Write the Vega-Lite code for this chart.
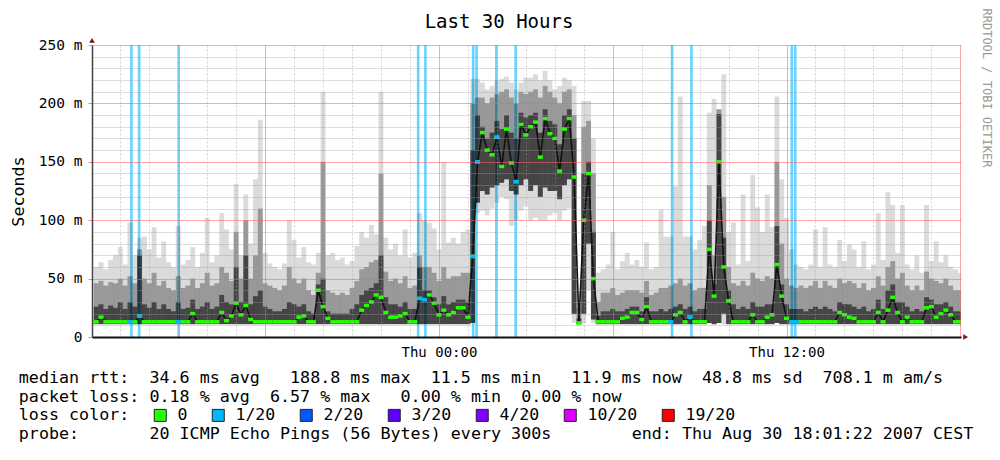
{
"$schema": "https://vega.github.io/schema/vega-lite/v6.json",
"width": 869, "height": 292,
"autosize": {"type": "none"},
"padding": {"left": 92, "top": 45, "right": 39, "bottom": 123},
"background": "white",
"data": {"values": [
{"m":730,"lo":11,"a":11,"d":26,"c":46,"hi":60,"md":13},
{"m":740,"lo":11,"a":11,"d":28,"c":48,"hi":64,"md":17},
{"m":750,"lo":11,"a":11,"d":24,"c":44,"hi":58,"md":13},
{"m":760,"lo":11,"a":11,"d":27,"c":47,"hi":66,"md":13},
{"m":770,"lo":11,"a":11,"d":25,"c":46,"hi":70,"md":13},
{"m":780,"lo":11,"a":11,"d":30,"c":50,"hi":77,"md":13},
{"m":790,"lo":11,"a":11,"d":24,"c":44,"hi":62,"md":13},
{"m":800,"lo":11,"a":11,"d":30,"c":52,"hi":98,"md":13,"l":"1/20"},
{"m":810,"lo":11,"a":11,"d":26,"c":46,"hi":70,"md":13},
{"m":820,"lo":11,"a":11,"d":70,"c":75,"hi":85,"md":18,"l":"1/20"},
{"m":830,"lo":11,"a":11,"d":28,"c":50,"hi":86,"md":13},
{"m":840,"lo":11,"a":11,"d":25,"c":46,"hi":75,"md":13},
{"m":850,"lo":11,"a":11,"d":30,"c":55,"hi":94,"md":13},
{"m":860,"lo":11,"a":11,"d":24,"c":44,"hi":68,"md":13},
{"m":870,"lo":11,"a":11,"d":28,"c":48,"hi":82,"md":13},
{"m":880,"lo":11,"a":11,"d":24,"c":42,"hi":64,"md":13},
{"m":890,"lo":11,"a":11,"d":22,"c":40,"hi":60,"md":13},
{"m":900,"lo":11,"a":11,"d":30,"c":52,"hi":95,"md":13,"l":"1/20"},
{"m":910,"lo":11,"a":11,"d":24,"c":42,"hi":62,"md":13},
{"m":920,"lo":11,"a":11,"d":25,"c":44,"hi":66,"md":13},
{"m":930,"lo":11,"a":11,"d":32,"c":50,"hi":77,"md":20},
{"m":940,"lo":11,"a":11,"d":24,"c":42,"hi":60,"md":13},
{"m":950,"lo":11,"a":11,"d":26,"c":46,"hi":72,"md":13},
{"m":960,"lo":11,"a":11,"d":30,"c":55,"hi":102,"md":13},
{"m":970,"lo":11,"a":11,"d":24,"c":44,"hi":64,"md":13},
{"m":980,"lo":11,"a":11,"d":26,"c":46,"hi":70,"md":13},
{"m":990,"lo":11,"a":11,"d":36,"c":60,"hi":106,"md":21},
{"m":1000,"lo":11,"a":11,"d":30,"c":55,"hi":92,"md":14},
{"m":1010,"lo":11,"a":11,"d":28,"c":48,"hi":75,"md":18},
{"m":1020,"lo":11,"a":11,"d":60,"c":90,"hi":131,"md":29},
{"m":1030,"lo":11,"a":11,"d":30,"c":50,"hi":70,"md":19},
{"m":1040,"lo":11,"a":11,"d":70,"c":100,"hi":122,"md":27},
{"m":1050,"lo":11,"a":11,"d":28,"c":50,"hi":80,"md":15},
{"m":1060,"lo":11,"a":11,"d":35,"c":70,"hi":135,"md":13},
{"m":1070,"lo":11,"a":11,"d":40,"c":110,"hi":186,"md":13},
{"m":1080,"lo":11,"a":11,"d":26,"c":46,"hi":72,"md":13},
{"m":1090,"lo":11,"a":11,"d":24,"c":44,"hi":63,"md":13},
{"m":1100,"lo":11,"a":11,"d":22,"c":42,"hi":60,"md":13},
{"m":1110,"lo":11,"a":11,"d":22,"c":40,"hi":58,"md":13},
{"m":1120,"lo":11,"a":11,"d":24,"c":44,"hi":63,"md":13},
{"m":1130,"lo":11,"a":11,"d":30,"c":60,"hi":100,"md":13},
{"m":1140,"lo":11,"a":11,"d":28,"c":50,"hi":83,"md":13},
{"m":1150,"lo":11,"a":11,"d":26,"c":46,"hi":68,"md":17},
{"m":1160,"lo":11,"a":11,"d":28,"c":50,"hi":77,"md":18},
{"m":1170,"lo":11,"a":11,"d":22,"c":40,"hi":64,"md":13},
{"m":1180,"lo":11,"a":11,"d":20,"c":36,"hi":62,"md":13},
{"m":1190,"lo":11,"a":11,"d":45,"c":55,"hi":72,"md":40},
{"m":1200,"lo":11,"a":11,"d":50,"c":150,"hi":210,"md":26},
{"m":1210,"lo":11,"a":11,"d":22,"c":40,"hi":70,"md":16},
{"m":1220,"lo":11,"a":11,"d":20,"c":38,"hi":72,"md":13},
{"m":1230,"lo":11,"a":11,"d":20,"c":36,"hi":66,"md":13},
{"m":1240,"lo":11,"a":11,"d":20,"c":38,"hi":68,"md":13},
{"m":1250,"lo":11,"a":11,"d":20,"c":36,"hi":62,"md":13},
{"m":1260,"lo":11,"a":11,"d":24,"c":42,"hi":65,"md":13},
{"m":1270,"lo":11,"a":11,"d":28,"c":48,"hi":78,"md":13},
{"m":1280,"lo":11,"a":11,"d":36,"c":58,"hi":90,"md":23},
{"m":1290,"lo":11,"a":11,"d":40,"c":60,"hi":85,"md":27},
{"m":1300,"lo":11,"a":11,"d":42,"c":64,"hi":96,"md":30},
{"m":1310,"lo":11,"a":11,"d":46,"c":66,"hi":88,"md":36},
{"m":1320,"lo":11,"a":11,"d":70,"c":140,"hi":210,"md":34},
{"m":1330,"lo":11,"a":11,"d":34,"c":56,"hi":85,"md":21},
{"m":1340,"lo":11,"a":11,"d":28,"c":48,"hi":75,"md":17},
{"m":1350,"lo":11,"a":11,"d":28,"c":50,"hi":80,"md":17},
{"m":1360,"lo":11,"a":11,"d":26,"c":46,"hi":70,"md":18},
{"m":1370,"lo":11,"a":11,"d":30,"c":52,"hi":92,"md":20},
{"m":1380,"lo":11,"a":11,"d":24,"c":42,"hi":68,"md":13},
{"m":1390,"lo":11,"a":11,"d":24,"c":44,"hi":72,"md":13},
{"m":1400,"lo":11,"a":11,"d":60,"c":70,"hi":106,"md":33,"l":"1/20"},
{"m":1410,"lo":11,"a":11,"d":40,"c":60,"hi":100,"md":32,"l":"1/20"},
{"m":1420,"lo":11,"a":11,"d":40,"c":60,"hi":98,"md":36},
{"m":1430,"lo":11,"a":11,"d":34,"c":55,"hi":93,"md":29},
{"m":1440,"lo":11,"a":11,"d":28,"c":48,"hi":75,"md":19},
{"m":1450,"lo":11,"a":11,"d":35,"c":60,"hi":150,"md":23},
{"m":1460,"lo":11,"a":11,"d":28,"c":50,"hi":81,"md":19},
{"m":1470,"lo":11,"a":11,"d":30,"c":52,"hi":85,"md":21},
{"m":1480,"lo":11,"a":11,"d":32,"c":52,"hi":80,"md":25},
{"m":1490,"lo":11,"a":11,"d":32,"c":55,"hi":90,"md":25},
{"m":1500,"lo":11,"a":11,"d":30,"c":55,"hi":92,"md":17},
{"m":1510,"lo":12,"a":12,"d":160,"c":200,"hi":221,"md":69,"l":"1/20"},
{"m":1520,"lo":106,"a":115,"d":190,"c":205,"hi":221,"md":150,"l":"1/20"},
{"m":1530,"lo":108,"a":125,"d":180,"c":205,"hi":218,"md":175},
{"m":1540,"lo":104,"a":122,"d":170,"c":200,"hi":212,"md":160},
{"m":1550,"lo":110,"a":128,"d":175,"c":205,"hi":215,"md":156},
{"m":1560,"lo":115,"a":130,"d":185,"c":208,"hi":220,"md":171,"l":"1/20"},
{"m":1570,"lo":120,"a":132,"d":178,"c":210,"hi":221,"md":146},
{"m":1580,"lo":118,"a":135,"d":190,"c":212,"hi":223,"md":178},
{"m":1590,"lo":95,"a":125,"d":175,"c":205,"hi":218,"md":149},
{"m":1600,"lo":100,"a":122,"d":170,"c":200,"hi":212,"md":133,"l":"1/20"},
{"m":1610,"lo":108,"a":130,"d":192,"c":210,"hi":218,"md":182},
{"m":1620,"lo":112,"a":135,"d":188,"c":208,"hi":222,"md":173},
{"m":1630,"lo":100,"a":125,"d":190,"c":210,"hi":222,"md":180},
{"m":1640,"lo":102,"a":130,"d":192,"c":212,"hi":225,"md":184},
{"m":1650,"lo":100,"a":120,"d":175,"c":205,"hi":220,"md":154},
{"m":1660,"lo":100,"a":128,"d":195,"c":215,"hi":228,"md":187},
{"m":1670,"lo":104,"a":125,"d":185,"c":210,"hi":220,"md":174},
{"m":1680,"lo":106,"a":125,"d":182,"c":205,"hi":212,"md":170},
{"m":1690,"lo":100,"a":118,"d":165,"c":200,"hi":215,"md":142},
{"m":1700,"lo":108,"a":130,"d":190,"c":210,"hi":222,"md":178},
{"m":1710,"lo":110,"a":135,"d":195,"c":212,"hi":220,"md":187},
{"m":1720,"lo":12,"a":20,"d":170,"c":190,"hi":215,"md":137},
{"m":1730,"lo":11,"a":11,"d":16,"c":25,"hi":40,"md":12},
{"m":1740,"lo":12,"a":20,"d":140,"c":180,"hi":202,"md":100},
{"m":1750,"lo":40,"a":80,"d":150,"c":185,"hi":202,"md":140},
{"m":1760,"lo":12,"a":15,"d":90,"c":140,"hi":170,"md":50},
{"m":1770,"lo":11,"a":11,"d":18,"c":30,"hi":55,"md":13},
{"m":1780,"lo":11,"a":11,"d":22,"c":38,"hi":58,"md":13},
{"m":1790,"lo":11,"a":11,"d":22,"c":38,"hi":62,"md":13},
{"m":1800,"lo":11,"a":11,"d":24,"c":42,"hi":90,"md":13},
{"m":1810,"lo":11,"a":11,"d":22,"c":36,"hi":58,"md":13},
{"m":1820,"lo":11,"a":11,"d":22,"c":38,"hi":65,"md":16},
{"m":1830,"lo":11,"a":11,"d":24,"c":40,"hi":72,"md":17},
{"m":1840,"lo":11,"a":11,"d":26,"c":40,"hi":62,"md":21},
{"m":1850,"lo":11,"a":11,"d":26,"c":40,"hi":66,"md":21},
{"m":1860,"lo":11,"a":11,"d":22,"c":38,"hi":60,"md":15},
{"m":1870,"lo":11,"a":11,"d":34,"c":48,"hi":81,"md":26},
{"m":1880,"lo":11,"a":11,"d":22,"c":36,"hi":58,"md":13},
{"m":1890,"lo":11,"a":11,"d":22,"c":38,"hi":60,"md":13},
{"m":1900,"lo":11,"a":11,"d":24,"c":42,"hi":109,"md":13},
{"m":1910,"lo":11,"a":11,"d":22,"c":42,"hi":86,"md":13},
{"m":1920,"lo":11,"a":11,"d":24,"c":44,"hi":86,"md":13,"l":"1/20"},
{"m":1930,"lo":11,"a":11,"d":26,"c":46,"hi":129,"md":19},
{"m":1940,"lo":11,"a":11,"d":28,"c":50,"hi":206,"md":21},
{"m":1950,"lo":11,"a":11,"d":24,"c":44,"hi":86,"md":13},
{"m":1960,"lo":11,"a":11,"d":26,"c":46,"hi":86,"md":17,"l":"1/20"},
{"m":1970,"lo":11,"a":11,"d":22,"c":40,"hi":75,"md":13},
{"m":1980,"lo":11,"a":11,"d":24,"c":42,"hi":83,"md":13},
{"m":1990,"lo":11,"a":11,"d":24,"c":42,"hi":95,"md":13},
{"m":2000,"lo":12,"a":12,"d":100,"c":130,"hi":192,"md":75},
{"m":2010,"lo":11,"a":11,"d":45,"c":70,"hi":204,"md":35},
{"m":2020,"lo":12,"a":12,"d":191,"c":195,"hi":195,"md":150},
{"m":2030,"lo":11,"a":20,"d":85,"c":120,"hi":225,"md":60},
{"m":2040,"lo":11,"a":11,"d":40,"c":60,"hi":90,"md":31},
{"m":2050,"lo":11,"a":11,"d":28,"c":46,"hi":98,"md":13},
{"m":2060,"lo":11,"a":11,"d":24,"c":44,"hi":62,"md":13},
{"m":2070,"lo":11,"a":11,"d":26,"c":48,"hi":122,"md":13},
{"m":2080,"lo":11,"a":11,"d":24,"c":44,"hi":65,"md":13},
{"m":2090,"lo":11,"a":11,"d":30,"c":55,"hi":139,"md":19},
{"m":2100,"lo":11,"a":11,"d":26,"c":50,"hi":111,"md":13},
{"m":2110,"lo":11,"a":11,"d":26,"c":48,"hi":90,"md":13},
{"m":2120,"lo":11,"a":11,"d":28,"c":52,"hi":122,"md":17},
{"m":2130,"lo":11,"a":11,"d":28,"c":50,"hi":94,"md":19},
{"m":2140,"lo":12,"a":12,"d":95,"c":150,"hi":206,"md":62},
{"m":2150,"lo":11,"a":11,"d":45,"c":80,"hi":135,"md":35},
{"m":2160,"lo":11,"a":11,"d":28,"c":50,"hi":102,"md":16},
{"m":2170,"lo":11,"a":11,"d":24,"c":44,"hi":75,"md":13,"l":"1/20"},
{"m":2180,"lo":11,"a":11,"d":24,"c":42,"hi":62,"md":13,"l":"1/20"},
{"m":2190,"lo":11,"a":11,"d":24,"c":44,"hi":60,"md":13},
{"m":2200,"lo":11,"a":11,"d":22,"c":42,"hi":58,"md":13},
{"m":2210,"lo":11,"a":11,"d":24,"c":44,"hi":62,"md":13},
{"m":2220,"lo":11,"a":11,"d":26,"c":48,"hi":92,"md":13},
{"m":2230,"lo":11,"a":11,"d":24,"c":42,"hi":60,"md":13},
{"m":2240,"lo":11,"a":11,"d":26,"c":48,"hi":94,"md":13},
{"m":2250,"lo":11,"a":11,"d":24,"c":44,"hi":62,"md":13},
{"m":2260,"lo":11,"a":11,"d":22,"c":42,"hi":60,"md":13},
{"m":2270,"lo":11,"a":11,"d":30,"c":50,"hi":83,"md":21},
{"m":2280,"lo":11,"a":11,"d":28,"c":46,"hi":65,"md":19},
{"m":2290,"lo":11,"a":11,"d":28,"c":48,"hi":79,"md":17},
{"m":2300,"lo":11,"a":11,"d":26,"c":46,"hi":75,"md":16},
{"m":2310,"lo":11,"a":11,"d":24,"c":42,"hi":60,"md":13},
{"m":2320,"lo":11,"a":11,"d":26,"c":46,"hi":82,"md":13},
{"m":2330,"lo":11,"a":11,"d":22,"c":40,"hi":58,"md":13},
{"m":2340,"lo":11,"a":11,"d":24,"c":42,"hi":62,"md":13},
{"m":2350,"lo":11,"a":11,"d":32,"c":52,"hi":106,"md":21},
{"m":2360,"lo":11,"a":11,"d":24,"c":44,"hi":66,"md":13},
{"m":2370,"lo":11,"a":11,"d":40,"c":60,"hi":124,"md":23},
{"m":2380,"lo":11,"a":11,"d":45,"c":65,"hi":113,"md":34},
{"m":2390,"lo":11,"a":11,"d":30,"c":50,"hi":72,"md":21},
{"m":2400,"lo":11,"a":11,"d":30,"c":55,"hi":113,"md":13},
{"m":2410,"lo":11,"a":11,"d":26,"c":44,"hi":62,"md":17},
{"m":2420,"lo":11,"a":11,"d":22,"c":40,"hi":58,"md":13},
{"m":2430,"lo":11,"a":11,"d":24,"c":44,"hi":70,"md":13},
{"m":2440,"lo":11,"a":11,"d":22,"c":40,"hi":55,"md":13},
{"m":2450,"lo":11,"a":11,"d":34,"c":56,"hi":113,"md":25},
{"m":2460,"lo":11,"a":11,"d":32,"c":50,"hi":65,"md":26},
{"m":2470,"lo":11,"a":11,"d":28,"c":48,"hi":82,"md":17},
{"m":2480,"lo":11,"a":11,"d":28,"c":46,"hi":64,"md":20},
{"m":2490,"lo":11,"a":11,"d":30,"c":50,"hi":70,"md":23},
{"m":2500,"lo":11,"a":11,"d":26,"c":44,"hi":60,"md":19},
{"m":2510,"lo":11,"a":11,"d":22,"c":40,"hi":58,"md":13},
{"m":2520,"lo":11,"a":11,"d":22,"c":40,"hi":55,"md":13}
]},
"layer": [
{
"data": {"values": [{"m":803},{"m":819},{"m":901},{"m":1397},{"m":1412},{"m":1511},{"m":1518},{"m":1559},{"m":1599},{"m":1923},{"m":1963},{"m":2171},{"m":2178}]},
"mark": {"type": "rule", "color": "#00b8ff", "opacity": 0.6, "strokeWidth": 2.6},
"encoding": {
"x": {"field": "m", "type": "quantitative", "scale": {"domain": [721.4, 2521.4], "nice": false, "zero": false}, "axis": null},
"y": {"datum": 0, "type": "quantitative", "scale": {"domain": [0, 250], "nice": false}, "axis": null},
"y2": {"datum": 250}
}
},
{
"mark": {"type": "rule", "color": "#000", "opacity": 0.14, "strokeWidth": 4.9, "clip": true},
"encoding": {
"x": {"field": "m", "type": "quantitative", "scale": {"domain": [721.4, 2521.4], "nice": false, "zero": false},
 "axis": {
  "values": [780,840,900,960,1020,1080,1140,1200,1260,1320,1380,1440,1500,1560,1620,1680,1740,1800,1860,1920,1980,2040,2100,2160,2220,2280,2340,2400,2460,2520],
  "zindex": 1,
  "grid": true,
  "gridColor": {"condition": {"test": "datum.value % 360 === 0", "value": "#ff5f5f"}, "value": "#9f9f9f"},
  "gridOpacity": {"condition": {"test": "datum.value % 360 === 0", "value": 0.55}, "value": 0.45},
  "gridDash": {"condition": {"test": "datum.value % 360 === 0", "value": []}, "value": [2, 2]},
  "ticks": false,
  "domainColor": "#111", "domainWidth": 2,
  "labelExpr": "datum.value === 1440 ? 'Thu 00:00' : (datum.value === 2160 ? 'Thu 12:00' : '')",
  "labelFont": "DejaVu Sans Mono", "labelFontSize": 14, "labelColor": "#000", "labelPadding": 8,
  "labelOverlap": false, "labelFlush": false,
  "title": ["median rtt:\u00a0\u00a034.6 ms avg\u00a0\u00a0\u00a0188.8 ms max\u00a0\u00a011.5 ms min\u00a0\u00a0\u00a011.9 ms now\u00a0\u00a048.8 ms sd\u00a0\u00a0708.1 m am/s",
            "packet loss: 0.18 % avg\u00a0\u00a06.57 % max\u00a0\u00a0\u00a00.00 % min\u00a0\u00a00.00 % now",
            "loss color:",
            "probe:\u00a0\u00a0\u00a0\u00a0\u00a0\u00a0\u00a020 ICMP Echo Pings (56 Bytes) every 300s\u00a0\u00a0\u00a0\u00a0\u00a0\u00a0\u00a0\u00a0end: Thu Aug 30 18:01:22 2007 CEST"],
  "titleFont": "DejaVu Sans Mono", "titleFontSize": 16.7, "titleFontWeight": "normal", "titleColor": "#000",
  "titleX": -73.7, "titleY": 45.5, "titleAlign": "left", "titleBaseline": "alphabetic", "titleLineHeight": 18.6
 }},
"y": {"field": "lo", "type": "quantitative", "scale": {"domain": [0, 250], "nice": false},
 "axis": {
  "orient": "left",
  "values": [0,10,20,30,40,50,60,70,80,90,100,110,120,130,140,150,160,170,180,190,200,210,220,230,240,250],
  "zindex": 1,
  "grid": true,
  "gridColor": {"condition": {"test": "datum.value % 50 === 0", "value": "#ff5f5f"}, "value": "#9f9f9f"},
  "gridOpacity": {"condition": {"test": "datum.value % 50 === 0", "value": 0.55}, "value": 0.35},
  "ticks": true, "tickSize": 4,
  "tickColor": {"condition": {"test": "datum.value % 50 === 0", "value": "#ff8080"}, "value": "#bbbbbb"},
  "tickOpacity": {"condition": {"test": "datum.value % 50 === 0", "value": 1}, "value": 0},
  "domainColor": "#444", "domainWidth": 1.5,
  "labelExpr": "datum.value % 50 === 0 ? (datum.value === 0 ? '0' : datum.value + ' m') : ''",
  "labelFont": "DejaVu Sans Mono", "labelFontSize": 14.5, "labelColor": "#000", "labelPadding": 6,
  "labelOverlap": false, "labelFlush": false,
  "title": "Seconds", "titleFont": "DejaVu Sans Mono", "titleFontSize": 16.7, "titleFontWeight": "normal", "titleColor": "#000",
  "titleX": -69, "titleY": 146, "titleAngle": 270, "titleAlign": "center", "titleBaseline": "alphabetic"
 }},
"y2": {"field": "hi"}
}
},
{
"mark": {"type": "rule", "color": "#000", "opacity": 0.3, "strokeWidth": 4.9, "clip": true},
"encoding": {
"x": {"field": "m", "type": "quantitative", "axis": null},
"y": {"field": "a", "type": "quantitative", "axis": null},
"y2": {"field": "c"}
}
},
{
"mark": {"type": "rule", "color": "#000", "opacity": 0.55, "strokeWidth": 4.9, "clip": true},
"encoding": {
"x": {"field": "m", "type": "quantitative", "axis": null},
"y": {"field": "a", "type": "quantitative", "axis": null},
"y2": {"field": "d"}
}
},
{
"mark": {"type": "line", "color": "#111", "strokeWidth": 1.6, "clip": true},
"encoding": {
"x": {"field": "m", "type": "quantitative", "axis": null},
"y": {"field": "md", "type": "quantitative", "axis": null}
}
},
{
"mark": {"type": "point", "shape": "M-1,-0.7H1V0.7H-1Z", "filled": true, "size": 25, "opacity": 1, "clip": true},
"encoding": {
"x": {"field": "m", "type": "quantitative", "axis": null},
"y": {"field": "md", "type": "quantitative", "axis": null},
"color": {"datum": "0", "type": "nominal",
 "scale": {"domain": ["0","1/20","2/20","3/20","4/20","10/20","19/20"], "range": ["#26ff00","#00b8ff","#0059ff","#5e00ff","#7e00ff","#dd00ff","#ff0000"]},
 "legend": {"orient": "none", "legendX": 60, "legendY": 362, "direction": "horizontal", "columns": 7, "title": null,
  "symbolType": "square", "symbolSize": 144, "symbolStrokeColor": "#222", "symbolStrokeWidth": 1, "symbolOpacity": 1,
  "labelFont": "DejaVu Sans Mono", "labelFontSize": 16.5, "labelColor": "#000", "labelOffset": 9, "columnPadding": 22, "padding": 0,
  "encode": {"symbols": {"update": {"stroke": {"value": "#222"}, "strokeWidth": {"value": 1}}}}}
}
}
},
{
"transform": [{"filter": "datum.l != null"}],
"mark": {"type": "point", "shape": "M-1,-0.7H1V0.7H-1Z", "filled": true, "size": 25, "opacity": 1, "clip": true},
"encoding": {
"x": {"field": "m", "type": "quantitative",
 "axis": {"orient": "top", "labels": false, "ticks": false, "domain": false, "grid": false,
  "title": "Last 30 Hours", "titleFont": "DejaVu Sans Mono", "titleFontSize": 19, "titleFontWeight": "normal", "titleColor": "#000",
  "titleX": 406.5, "titleY": -18, "titleAlign": "center", "titleBaseline": "alphabetic"}},
"y": {"field": "md", "type": "quantitative",
 "axis": {"orient": "right", "labels": false, "ticks": false, "domain": false, "grid": false,
  "title": "RRDTOOL / TOBI OETIKER", "titleFont": "DejaVu Sans Mono", "titleFontSize": 12, "titleFontWeight": "normal", "titleColor": "#999",
  "titleAngle": 90, "titleX": 21, "titleY": -37, "titleAlign": "left", "titleBaseline": "alphabetic"}},
"color": {"field": "l", "type": "nominal",
 "scale": {"domain": ["0","1/20","2/20","3/20","4/20","10/20","19/20"], "range": ["#26ff00","#00b8ff","#0059ff","#5e00ff","#7e00ff","#dd00ff","#ff0000"]},
 "legend": {"orient": "none", "legendX": 60, "legendY": 362, "direction": "horizontal", "columns": 7, "title": null,
  "symbolType": "square", "symbolSize": 144, "symbolStrokeColor": "#222", "symbolStrokeWidth": 1, "symbolOpacity": 1,
  "labelFont": "DejaVu Sans Mono", "labelFontSize": 16.5, "labelColor": "#000", "labelOffset": 9, "columnPadding": 22, "padding": 0,
  "encode": {"symbols": {"update": {"stroke": {"value": "#222"}, "strokeWidth": {"value": 1}}}}}
}
}
},
{
"data": {"values": [{}]},
"mark": {"type": "point", "shape": "triangle-up", "filled": true, "color": "#7a1010", "size": 30, "opacity": 1},
"encoding": {
"x": {"datum": 721.4, "type": "quantitative", "axis": null},
"y": {"datum": 254, "type": "quantitative", "axis": null}
}
},
{
"data": {"values": [{}]},
"mark": {"type": "point", "shape": "triangle-right", "filled": true, "color": "#7a1010", "size": 30, "opacity": 1},
"encoding": {
"x": {"datum": 2531, "type": "quantitative", "axis": null},
"y": {"datum": 0, "type": "quantitative", "axis": null}
}
}
],
"resolve": {"axis": {"x": "independent", "y": "independent"}},
"config": {"view": {"stroke": null}, "font": "DejaVu Sans Mono"}
}
